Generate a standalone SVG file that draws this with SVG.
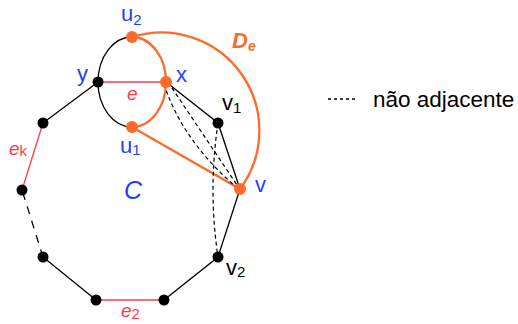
<svg xmlns="http://www.w3.org/2000/svg" width="518" height="324" viewBox="0 0 518 324">
<style>
text{font-family:"Liberation Sans",Arial,sans-serif}
.blk{stroke:#000;stroke-width:1.3;fill:none}
.red{stroke:#ff3b4a;stroke-width:1.3;fill:none}
.org{stroke:#ff6a2b;stroke-width:2.3;fill:none}
.dsh{stroke:#000;stroke-width:1.2;fill:none;stroke-dasharray:4 3}
.nb{fill:#000}
.no{fill:#ff6a2b}
.lb{fill:#1f3fff;font-size:22px}
.lk{fill:#000;font-size:22px}
.lr{fill:#ff3b4a;font-size:19px;font-style:italic}
.sub{font-size:15px;font-style:normal}
</style>
<rect width="518" height="324" fill="#fff"/>
<g id="connectors">
<path class="blk" d="M43,123 L98,82"/>
<path class="red" d="M98,82 L166,82"/>
<path class="blk" d="M166,82 L218,123 L240,189 L218,257 L164,300"/>
<path class="red" d="M164,300 L96,300"/>
<path class="blk" d="M96,300 L43,257"/>
<path class="blk" d="M43,257 L22,190" stroke-dasharray="8 7"/>
<path class="red" d="M22,190 L43,123"/>
<path class="blk" d="M132,37 A34,45 0 0 0 132,127"/>
<path class="org" d="M132,37 A34,45 0 0 1 132,127"/>
<path class="org" d="M132,127 L240,189"/>
<path class="org" d="M132,37 A98,98 0 0 1 240,189"/>
<path class="dsh" d="M168,82 L239,188"/>
<path class="dsh" d="M164,84 Q182,140 236,187"/>
<path class="dsh" d="M218,123 Q208,190 218,257"/>
<path class="blk" d="M328,99 L357,99" stroke-width="1" stroke-dasharray="3 3"/>
</g>
<g id="n-y"><circle class="nb" cx="98" cy="82" r="5.5"/><text class="lb" x="77" y="81">y</text></g>
<g id="n-x"><circle class="no" cx="166" cy="82" r="6"/><text class="lb" x="176" y="82">x</text></g>
<g id="n-u2"><circle class="no" cx="132" cy="37" r="6"/><text class="lb" x="121" y="21">u<tspan class="sub" dy="4">2</tspan></text></g>
<g id="n-u1"><circle class="no" cx="132" cy="127" r="6"/><text class="lb" x="120" y="153">u<tspan class="sub" dy="2">1</tspan></text></g>
<g id="n-v1"><circle class="nb" cx="218" cy="123" r="5.5"/><text class="lk" x="222" y="110">v<tspan class="sub" dy="3">1</tspan></text></g>
<g id="n-v"><circle class="no" cx="240" cy="189" r="6"/><text class="lb" x="255" y="192">v</text></g>
<g id="n-v2"><circle class="nb" cx="218" cy="257" r="5.5"/><text class="lk" x="226" y="275">v<tspan class="sub" dy="2">2</tspan></text></g>
<g id="n-br"><circle class="nb" cx="164" cy="300" r="5.5"/></g>
<g id="n-bl"><circle class="nb" cx="96" cy="300" r="5.5"/></g>
<g id="n-ll"><circle class="nb" cx="43" cy="257" r="5.5"/></g>
<g id="n-lm"><circle class="nb" cx="22" cy="190" r="5.5"/></g>
<g id="n-lu"><circle class="nb" cx="43" cy="123" r="5.5"/></g>
<g id="labels">
<text class="lr" x="127" y="100">e</text>
<text class="lr" x="9" y="155">e<tspan class="sub" font-size="12" dy="1">k</tspan></text>
<text class="lr" x="121" y="317">e<tspan class="sub" dy="2">2</tspan></text>
<text x="232" y="48" fill="#ff6a2b" font-size="22" font-weight="bold" font-style="italic">D<tspan font-size="14" dy="3">e</tspan></text>
<text x="124" y="199" fill="#1f3fff" font-size="25" font-style="italic">C</text>
<text x="373" y="107" fill="#000" font-size="22.5">não adjacente</text>
</g>
</svg>
